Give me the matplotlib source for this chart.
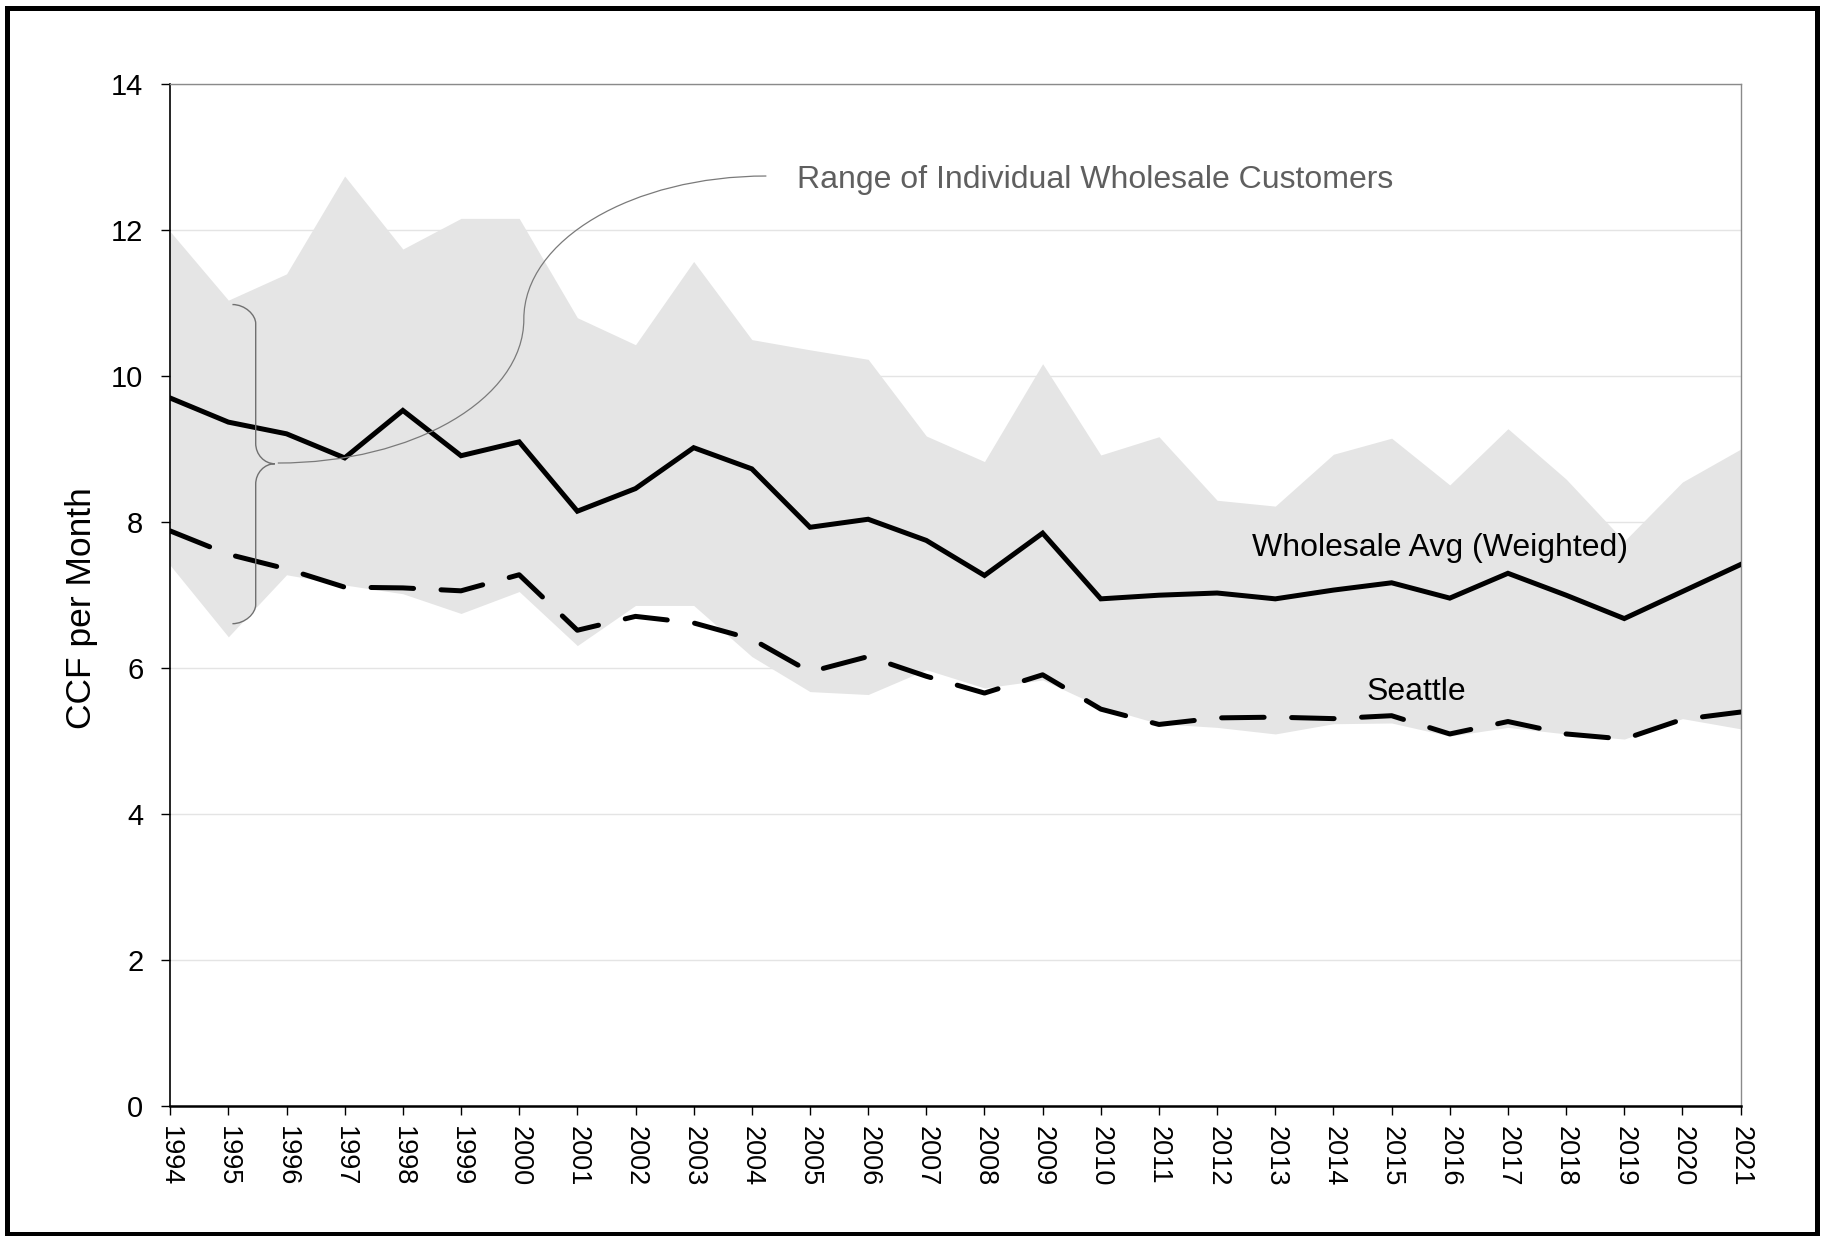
import matplotlib
matplotlib.use("Agg")
import matplotlib.pyplot as plt
from matplotlib.path import Path
from matplotlib.patches import PathPatch, Rectangle

plt.rcParams['font.family'] = ['Liberation Sans', 'DejaVu Sans']

years = list(range(1994, 2022))
wholesale_avg = [9.70, 9.37, 9.21, 8.88, 9.53, 8.91, 9.10, 8.15, 8.46, 9.02,
                 8.73, 7.93, 8.04, 7.75, 7.27, 7.85, 6.95, 7.00, 7.03, 6.95,
                 7.07, 7.17, 6.96, 7.30, 7.00, 6.68, 7.05, 7.42]
seattle = [7.88, 7.56, 7.36, 7.11, 7.10, 7.06, 7.28, 6.52, 6.71, 6.62,
           6.40, 5.95, 6.16, 5.89, 5.66, 5.91, 5.44, 5.23, 5.32, 5.33,
           5.31, 5.35, 5.10, 5.27, 5.10, 5.03, 5.30, 5.40]
range_high = [11.98, 11.04, 11.40, 12.74, 11.74, 12.16, 12.16, 10.80, 10.43, 11.57,
              10.50, 10.36, 10.23, 9.18, 8.83, 10.17, 8.92, 9.17, 8.30, 8.22,
              8.93, 9.15, 8.51, 9.28, 8.59, 7.74, 8.55, 9.00]
range_low = [7.41, 6.43, 7.28, 7.14, 7.02, 6.75, 7.05, 6.31, 6.86, 6.86,
             6.16, 5.68, 5.64, 5.98, 5.73, 5.84, 5.47, 5.24, 5.19, 5.10,
             5.24, 5.25, 5.07, 5.19, 5.10, 5.03, 5.31, 5.17]
y_ticks = [0, 2, 4, 6, 8, 10, 12, 14]

fig = plt.figure(figsize=(18.28, 12.36), dpi=100)
ax = fig.add_axes([170.2 / 1828, 1 - 1106.4 / 1236, (1740.6 - 170.2) / 1828, (1106.4 - 84) / 1236])

ax.set_axisbelow(True)
ax.yaxis.grid(True, color='#e4e4e4', lw=1.0, zorder=0)
ax.fill_between(years, range_low, range_high, color='#e5e5e5', lw=0, zorder=1)
ax.plot(years, wholesale_avg, color='black', lw=3.6, solid_joinstyle='miter', zorder=3)
ax.plot(years, seattle, color='black', lw=3.6, dashes=(8.5, 5.5), dash_capstyle='round', zorder=3)

ax.set_xlim(1994, 2021)
ax.set_ylim(0, 14)
ax.set_yticks(y_ticks)
ax.set_xticks(years)
ax.set_xticklabels([str(y) for y in years], rotation=270, fontsize=19.5)
ax.tick_params(axis='y', labelsize=21, length=6.3, width=1, pad=13, direction='out')
ax.tick_params(axis='x', length=6.2, width=1, pad=8, direction='out')

for s in ['top', 'right']:
    ax.spines[s].set_color('#8a8a8a')
    ax.spines[s].set_linewidth(1.0)
ax.spines['left'].set_color('black')
ax.spines['left'].set_linewidth(1.2)
ax.spines['bottom'].set_color('black')
ax.spines['bottom'].set_linewidth(1.8)

fig.text(81.6 / 1828, 1 - 608 / 1236, 'CCF per Month', rotation=90, ha='center', va='center', fontsize=25.5)

# Labels
ax.text(2015.83, 7.65, 'Wholesale Avg (Weighted)', ha='center', va='center', fontsize=23, color='black', zorder=5)
ax.text(2015.42, 5.68, 'Seattle', ha='center', va='center', fontsize=23, color='black', zorder=5)
ax.text(2009.9, 12.68, 'Range of Individual Wholesale Customers', ha='center', va='center',
        fontsize=23, color='#5f5f5f', zorder=5)

# Brace
k = 0.5523
bx_end, bx_v, bx_tip = 1995.07, 1995.47, 1995.80
b_top, b_tip, b_bot = 10.98, 8.80, 6.61
c1 = 0.26
c2 = 0.28
verts = [
    (bx_end, b_top),
    (bx_end + k * (bx_v - bx_end), b_top), (bx_v, b_top - k * c1), (bx_v, b_top - c1),
    (bx_v, b_tip + c2),
    (bx_v, b_tip + c2 * (1 - k)), (bx_tip - k * (bx_tip - bx_v), b_tip), (bx_tip, b_tip),
    (bx_tip - k * (bx_tip - bx_v), b_tip), (bx_v, b_tip - c2 * (1 - k)), (bx_v, b_tip - c2),
    (bx_v, b_bot + c1),
    (bx_v, b_bot + k * c1), (bx_end + k * (bx_v - bx_end), b_bot), (bx_end, b_bot),
]
codes = [Path.MOVETO,
         Path.CURVE4, Path.CURVE4, Path.CURVE4,
         Path.LINETO,
         Path.CURVE4, Path.CURVE4, Path.CURVE4,
         Path.CURVE4, Path.CURVE4, Path.CURVE4,
         Path.LINETO,
         Path.CURVE4, Path.CURVE4, Path.CURVE4]
ax.add_patch(PathPatch(Path(verts, codes), fill=False, ec='#707070', lw=1.0, zorder=4, clip_on=False))

# Callout S-curve
S = (1995.85, 8.81)
M = (2000.08, 10.78)
E = (2004.25, 12.74)
verts2 = [
    S,
    (S[0] + k * (M[0] - S[0]), S[1]), (M[0], M[1] - k * (M[1] - S[1])), M,
    (M[0], M[1] + k * (E[1] - M[1])), (E[0] - k * (E[0] - M[0]), E[1]), E,
]
codes2 = [Path.MOVETO, Path.CURVE4, Path.CURVE4, Path.CURVE4, Path.CURVE4, Path.CURVE4, Path.CURVE4]
ax.add_patch(PathPatch(Path(verts2, codes2), fill=False, ec='#7a7a7a', lw=0.9, zorder=4, clip_on=False))

# Figure border
fig.patches.append(Rectangle((7.5 / 1828, 2.5 / 1236), (1817 - 7.5) / 1828, (1233.5 - 7.5) / 1236,
                             transform=fig.transFigure, fill=False, ec='black', lw=3.6))

fig.savefig('out.png', dpi=100)
